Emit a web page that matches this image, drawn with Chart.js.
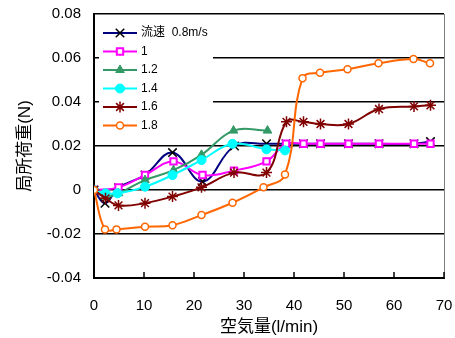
<!DOCTYPE html>
<html>
<head>
<meta charset="utf-8">
<script src="https://cdn.jsdelivr.net/npm/chart.js@4/dist/chart.umd.min.js"></script>
<style>
  html, body { margin: 0; padding: 0; background: #fff; overflow: hidden; }
</style>
</head>
<body>
<canvas id="chart" width="455" height="338"></canvas>
<script>
// 流速ごとの局所荷重データ
const labels = ['流速  0.8m/s', '1', '1.2', '1.4', '1.6', '1.8'];

const x08 = [0, 2.2, 4.9, 10.2, 15.7, 21.7, 28.1, 34.5, 38.4, 41.9, 45.3, 50.9, 57, 64, 67.3];
const y08 = [0, -0.006, 0.001, 0.0068, 0.017, 0.0038, 0.020, 0.021, 0.021, 0.021, 0.021, 0.021, 0.021, 0.021, 0.022];

const x10 = [0, 4.9, 10.2, 15.9, 21.7, 28, 34.5, 38.4, 41.9, 45.3, 50.9, 57, 64, 67.3];
const y10 = [0, 0.0012, 0.0068, 0.013, 0.0068, 0.0088, 0.013, 0.021, 0.021, 0.021, 0.021, 0.021, 0.021, 0.021];

const x12 = [0, 2.3, 4.9, 10.2, 15.9, 21.5, 27.9, 34.7];
const y12 = [0, -0.003, -0.0015, 0.0045, 0.009, 0.016, 0.027, 0.027];

const x14 = [0, 2.3, 4.7, 10.2, 15.7, 21.5, 27.7, 34.5, 38.2];
const y14 = [0, -0.0015, -0.0015, 0.0015, 0.0068, 0.0136, 0.021, 0.0185, 0.018];

const x16 = [0, 2.3, 4.9, 10.2, 15.7, 21.5, 28, 34.5, 38.5, 41.9, 45.3, 50.9, 57, 64, 67.3];
const y16 = [0, -0.0038, -0.007, -0.006, -0.003, 0.0012, 0.0079, 0.0079, 0.031, 0.031, 0.030, 0.030, 0.0368, 0.038, 0.0385];

const x18 = [0, 2.2, 4.5, 10.2, 15.7, 21.5, 27.7, 33.9, 38.2, 41.7, 45.2, 50.7, 56.9, 63.9, 67.2];
const y18 = [0, -0.0179, -0.0179, -0.0167, -0.016, -0.0114, -0.0058, 0.0012, 0.007, 0.0508, 0.0533, 0.0549, 0.0576, 0.0595, 0.0576];

const xTicks = [0, 10, 20, 30, 40, 50, 60, 70];
const yTicks = [-0.04, -0.02, 0, 0.02, 0.04, 0.06, 0.08];

const pts = (xs, ys) => xs.map((x, i) => ({ x: x, y: ys[i] }));

const latin = '"Liberation Sans", Arial, "Noto Sans CJK JP", sans-serif';

const series = [
  { xs: x08, ys: y08, color: '#000080', style: 'crossRot', r: 6, pb: '#000000', pf: '#000000', bw: 1.5 },
  { xs: x10, ys: y10, color: '#ff00ff', style: 'rect', r: 4.5, pb: '#ff00ff', pf: '#ffffff', bw: 2 },
  { xs: x12, ys: y12, color: '#339966', style: 'triangle', r: 5, pb: '#339966', pf: '#339966', bw: 1 },
  { xs: x14, ys: y14, color: '#00ffff', style: 'circle', r: 4.5, pb: '#00ffff', pf: '#00ffff', bw: 1 },
  { xs: x16, ys: y16, color: '#800000', style: 'star', r: 5.5, pb: '#800000', pf: '#800000', bw: 1.5 },
  { xs: x18, ys: y18, color: '#ff6600', style: 'circle', r: 3.5, pb: '#ff6600', pf: '#ffffff', bw: 1.5 }
];

const datasets = series.map((s, i) => ({
  label: labels[i],
  data: pts(s.xs, s.ys),
  borderColor: s.color,
  backgroundColor: s.pf,
  borderWidth: 2,
  tension: 0.4,
  pointStyle: s.style,
  pointRadius: s.r,
  pointBorderColor: s.pb,
  pointBackgroundColor: s.pf,
  pointBorderWidth: s.bw,
  order: series.length - i
}));

// 凡例（線＋マーカー）を左上に描く
const legendBox = {
  id: 'legendBox',
  beforeDatasetsDraw(chart) {
    const { ctx, chartArea } = chart;
    const left = chartArea.left + 5;
    const top = chartArea.top + 4;
    ctx.save();
    ctx.fillStyle = '#ffffff';
    ctx.fillRect(left, top, 114, 118);
    ctx.font = '12px ' + latin;
    ctx.textBaseline = 'middle';
    chart.data.datasets.forEach((ds, i) => {
      const y = top + 15 + i * 18.5;
      ctx.strokeStyle = ds.borderColor;
      ctx.lineWidth = 2;
      ctx.beginPath();
      ctx.moveTo(left + 4, y);
      ctx.lineTo(left + 38, y);
      ctx.stroke();
      ctx.fillStyle = ds.pointBackgroundColor;
      ctx.strokeStyle = ds.pointBorderColor;
      ctx.lineWidth = ds.pointBorderWidth;
      Chart.helpers.drawPoint(ctx, {
        pointStyle: ds.pointStyle,
        radius: ds.pointRadius,
        rotation: 0,
        borderWidth: ds.pointBorderWidth
      }, left + 21, y);
      ctx.fillStyle = '#000000';
      ctx.fillText(ds.label, left + 42, y);
    });
    ctx.restore();
  },
  afterDraw(chart) {
    const { ctx, chartArea, scales } = chart;
    ctx.save();
    // 右枠
    ctx.strokeStyle = '#808080';
    ctx.lineWidth = 1;
    ctx.beginPath();
    ctx.moveTo(chartArea.right + 0.5, chartArea.top);
    ctx.lineTo(chartArea.right + 0.5, chartArea.bottom);
    ctx.stroke();
    // x軸の内向き目盛
    ctx.strokeStyle = '#000000';
    ctx.lineWidth = 1.5;
    scales.x.ticks.forEach(t => {
      const px = scales.x.getPixelForValue(t.value);
      ctx.beginPath();
      ctx.moveTo(px, chartArea.bottom);
      ctx.lineTo(px, chartArea.bottom - 6);
      ctx.stroke();
    });
    ctx.restore();
  }
};

new Chart(document.getElementById('chart'), {
  type: 'line',
  data: { datasets: datasets },
  options: {
    responsive: false,
    animation: false,
    layout: { padding: { left: 0, right: 11, top: 14, bottom: 0 } },
    plugins: {
      legend: { display: false },
      tooltip: { enabled: false }
    },
    scales: {
      x: {
        type: 'linear',
        min: 0,
        max: 70,
        afterBuildTicks: (scale) => { scale.ticks = xTicks.map(v => ({ value: v })); },
        afterFit: (scale) => {
          scale.height = 60;
          scale.paddingLeft = 0;
          scale.paddingRight = 0;
        },
        grid: { drawOnChartArea: false, drawTicks: false },
        border: { color: '#000000', width: 2 },
        ticks: {
          color: '#000000',
          padding: 19,
          maxRotation: 0,
          font: { family: latin, size: 15 }
        },
        title: {
          display: true,
          text: '空気量(l/min)',
          color: '#000000',
          padding: { top: 0, bottom: 0 },
          font: { family: latin, size: 17 }
        }
      },
      y: {
        min: -0.04,
        max: 0.08,
        afterBuildTicks: (scale) => { scale.ticks = yTicks.map(v => ({ value: v })); },
        afterFit: (scale) => {
          scale.width = 94;
          scale.paddingTop = 0;
          scale.paddingBottom = 0;
        },
        grid: { color: '#000000', lineWidth: 1.5, drawTicks: false },
        border: { color: '#000000', width: 2 },
        ticks: {
          color: '#000000',
          padding: 13,
          font: { family: latin, size: 15 },
          callback: (v) => String(Number(v.toFixed(2)))
        },
        title: {
          display: true,
          text: '局所荷重(N)',
          color: '#000000',
          padding: { top: 15, bottom: 0 },
          font: { family: latin, size: 17 }
        }
      }
    }
  },
  plugins: [legendBox]
});
</script>
</body>
</html>
